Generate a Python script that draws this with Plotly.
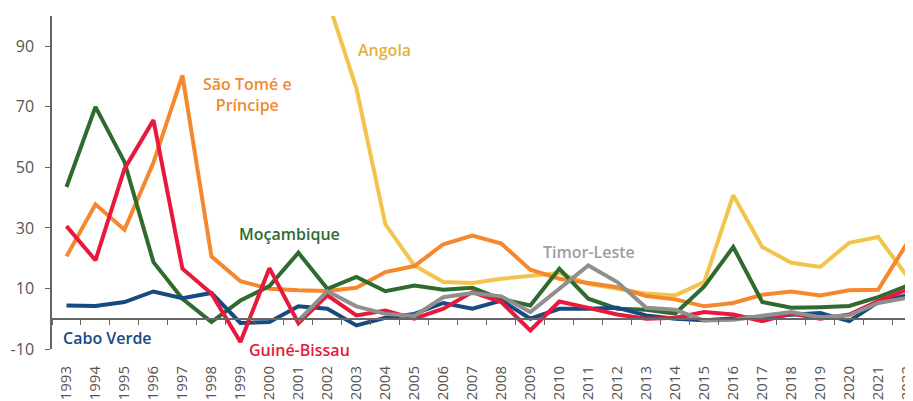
import plotly.graph_objects as go

years = [str(y) for y in range(1993, 2023)]

angola = [None, None, None, None, None, None, None, None, None,
          105.6, 76.1, 31.2, 17.6, 12.1, 11.8, 13.2, 14.0, 15.1, 11.5, 9.9,
          8.3, 7.7, 12.1, 40.8, 23.7, 18.5, 17.1, 25.1, 27.0, 14.0]
sao_tome = [20.6, 37.8, 29.4, 51.6, 80.4, 20.6, 12.4, 9.9, 9.4, 9.2,
            10.2, 15.4, 17.4, 24.6, 27.5, 24.8, 16.2, 13.2, 11.8, 10.4,
            7.5, 6.4, 4.1, 5.2, 7.9, 9.0, 7.7, 9.4, 9.6, 25.0]
mocambique = [43.5, 70.0, 51.8, 18.7, 6.6, -1.1, 6.0, 10.8, 21.8, 9.9,
              13.8, 9.1, 11.0, 9.6, 10.2, 6.5, 4.4, 16.5, 6.6, 3.3,
              3.0, 1.7, 10.7, 23.7, 5.5, 3.6, 3.8, 4.2, 7.1, 10.9]
cabo_verde = [4.4, 4.2, 5.5, 9.0, 6.8, 8.5, -1.4, -1.1, 4.1, 3.3,
              -2.2, 0.3, 1.6, 5.2, 3.3, 6.0, 0.0, 3.3, 3.3, 3.6,
              1.1, 0.0, -0.5, 0.0, 0.5, 1.3, 1.9, -0.8, 5.5, 7.7]
guine_bissau = [30.6, 19.3, 49.5, 65.6, 16.5, 8.3, -7.7, 16.7, -1.5, 7.7,
                1.1, 2.7, 0.0, 3.3, 8.8, 5.5, -3.9, 5.7, 3.6, 1.4,
                0.0, 0.3, 2.2, 1.4, -0.8, 1.7, 0.0, 1.4, 5.8, 9.6]
timor_leste = [None, None, None, None, None, None, None, None, -0.6, 9.1,
               4.1, 1.6, 0.9, 7.1, 8.5, 7.4, 2.2, 9.9, 17.6, 12.1,
               3.6, 3.0, -0.6, -0.3, 0.8, 2.2, 0.5, 1.1, 5.2, 6.9]

y_ticks = [-10, 10, 30, 50, 70, 90]
y_tick_text = ["-10", "10", "30", "50", "70", "90"]

series = [
    ("Angola", angola, "#f2c44e"),
    ("São Tomé e Príncipe", sao_tome, "#f5882f"),
    ("Moçambique", mocambique, "#2f6b2f"),
    ("Cabo Verde", cabo_verde, "#174a80"),
    ("Guiné-Bissau", guine_bissau, "#e8193c"),
    ("Timor-Leste", timor_leste, "#8f8f8f"),
]

fig = go.Figure()
for name, vals, color in series:
    fig.add_trace(go.Scatter(x=years, y=vals, name=name, mode="lines",
                             line=dict(color=color, width=4),
                             connectgaps=False, hoverinfo="x+y+name"))

# invisible trace to drive the axis drawn at y = 0
fig.add_trace(go.Scatter(x=years, y=cabo_verde, xaxis="x2", mode="lines",
                         line=dict(width=0), opacity=0, showlegend=False,
                         hoverinfo="skip"))

xr = [-0.5, 29.2]
yr = [-10, 100]

# the page body adds an 8px margin, so the figure is 8px smaller than the window
fig.update_layout(
    width=905, height=393,
    margin=dict(l=44, r=0, t=8, b=52),
    paper_bgcolor="white", plot_bgcolor="white",
    showlegend=False,
    font=dict(family="Open Sans", color="#555555"),
    xaxis=dict(type="category", range=xr, showgrid=False, zeroline=False,
               automargin=False,
               showline=False, ticks="outside", ticklen=10,
               tickcolor="rgba(0,0,0,0)", tickangle=-90,
               tickfont=dict(size=15, color="#555555")),
    xaxis2=dict(type="category", range=xr, overlaying="x", anchor="free",
                position=10 / 110, showgrid=False, zeroline=False,
                automargin=False,
                showline=True, linecolor="#666666", linewidth=1.5,
                ticks="outside", ticklen=6, tickcolor="#666666",
                tickwidth=1.2, tickson="boundaries", showticklabels=False),
    yaxis=dict(range=yr, tickvals=y_ticks, ticktext=y_tick_text,
               showgrid=False, zeroline=False, automargin=False,
               showline=True, linecolor="#666666", linewidth=1.5,
               ticks="outside", ticklen=5, tickcolor="#666666",
               ticklabelstandoff=8,
               tickfont=dict(size=16, color="#555555")),
)

labels = [
    ("Angola", 0.3856, 0.8974, "#e3b23a"),
    ("São Tomé e<br>Príncipe", 0.2265, 0.7653, "#f08a33"),
    ("Moçambique", 0.2753, 0.3442, "#2f6b2f"),
    ("Timor-Leste", 0.6237, 0.2899, "#9e9e9e"),
    ("Cabo Verde", 0.0639, 0.0339, "#174a80"),
    ("Guiné-Bissau", 0.2869, -0.003, "#e8193c"),
]
for text, x, y, color in labels:
    fig.add_annotation(text=text, x=x, y=y, xref="paper", yref="paper",
                       showarrow=False, xanchor="center", yanchor="middle",
                       font=dict(family="Open Sans", size=16, color=color,
                                 weight=600))

fig.write_html("out.html")
